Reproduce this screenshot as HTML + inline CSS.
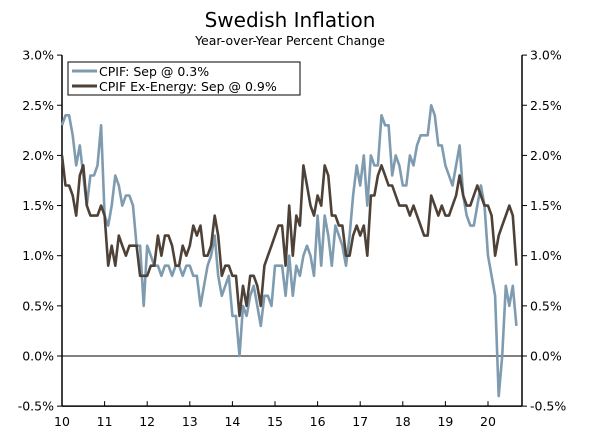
<!DOCTYPE html>
<html><head><meta charset="utf-8"><style>
body{margin:0;background:#fff;}
svg text{font-family:"DejaVu Sans","Liberation Sans",sans-serif;fill:#000;}
</style></head><body>
<svg id="chart" width="600" height="436" viewBox="0 0 600 436" xmlns="http://www.w3.org/2000/svg">
<text x="290" y="27" font-size="20" text-anchor="middle">Swedish Inflation</text>
<text x="290" y="45" font-size="12.5" text-anchor="middle">Year-over-Year Percent Change</text>
<g id="axes"></g>
<g id="series"></g>
<g>
<rect x="68" y="62" width="232" height="33" fill="#fff" stroke="#000" stroke-width="1"/>
<line x1="72" y1="71" x2="97" y2="71" stroke="#7e9bb0" stroke-width="3"/>
<text x="99" y="76" font-size="12.5">CPIF: Sep @ 0.3%</text>
<line x1="72" y1="86" x2="97" y2="86" stroke="#4e4238" stroke-width="3"/>
<text x="99" y="91" font-size="12.5">CPIF Ex-Energy: Sep @ 0.9%</text>
</g>
</svg>
<script>
const yTicks=[3.0,2.5,2.0,1.5,1.0,0.5,0.0,-0.5];
const yearLabels=["10","11","12","13","14","15","16","17","18","19","20"];
const cpif=[2.3,2.4,2.4,2.2,1.9,2.1,1.8,1.5,1.8,1.8,1.9,2.3,
1.4,1.3,1.5,1.8,1.7,1.5,1.6,1.6,1.5,1.1,1.1,0.5,
1.1,1.0,0.9,0.9,0.8,0.9,0.9,0.8,0.9,0.9,0.8,0.9,
0.9,0.8,0.8,0.5,0.7,0.9,1.0,1.2,0.8,0.6,0.7,0.8,
0.4,0.4,0.0,0.5,0.4,0.6,0.7,0.5,0.3,0.6,0.6,0.5,
0.9,0.9,0.9,0.6,1.0,0.6,0.9,0.8,1.0,1.1,1.0,0.8,
1.4,0.9,1.4,1.2,0.9,1.3,1.2,1.1,0.9,1.2,1.6,1.9,
1.7,2.0,1.5,2.0,1.9,1.9,2.4,2.3,2.3,1.8,2.0,1.9,
1.7,1.7,2.0,1.9,2.1,2.2,2.2,2.2,2.5,2.4,2.1,2.1,
1.9,1.8,1.7,1.9,2.1,1.6,1.4,1.3,1.3,1.5,1.7,1.5,
1.0,0.8,0.6,-0.4,0.0,0.7,0.5,0.7,0.3];
const cpifExEnergy=[2.0,1.7,1.7,1.6,1.4,1.8,1.9,1.5,1.4,1.4,1.4,1.5,
1.4,0.9,1.1,0.9,1.2,1.1,1.0,1.1,1.1,1.1,0.8,0.8,
0.8,0.9,0.9,1.2,1.0,1.2,1.2,1.1,0.9,0.9,1.1,1.0,
1.1,1.3,1.2,1.3,1.0,1.0,1.1,1.4,1.2,0.8,0.9,0.9,
0.8,0.8,0.4,0.7,0.5,0.8,0.8,0.7,0.5,0.9,1.0,1.1,
1.2,1.3,1.3,0.9,1.5,1.0,1.4,1.3,1.9,1.7,1.5,1.4,
1.6,1.5,1.9,1.8,1.4,1.4,1.3,1.3,1.0,1.0,1.2,1.3,
1.2,1.3,1.0,1.6,1.6,1.8,1.9,1.8,1.7,1.7,1.6,1.5,
1.5,1.5,1.4,1.5,1.4,1.3,1.2,1.2,1.6,1.5,1.4,1.5,
1.4,1.4,1.5,1.6,1.8,1.6,1.5,1.5,1.6,1.7,1.6,1.5,
1.5,1.4,1.0,1.2,1.3,1.4,1.5,1.4,0.9];
const NS="http://www.w3.org/2000/svg";
const X0=62,X1=522,perYear=42.6;
function xScale(i){return X0+i*perYear/12;}
function yScale(v){return 356-v*100.3;}
function mk(tag,attrs,parent){const e=document.createElementNS(NS,tag);for(const k in attrs)e.setAttribute(k,attrs[k]);parent.appendChild(e);return e;}
const axes=document.getElementById('axes');
const ax=mk('line',{x1:X0,y1:yScale(3),x2:X0,y2:yScale(-0.5),stroke:'#000','stroke-width':1.5},axes);


const ax2=mk('line',{x1:X1,y1:yScale(3),x2:X1,y2:yScale(-0.5),stroke:'#000','stroke-width':1.5},axes);


const bx=mk('line',{x1:X0,y1:yScale(-0.5),x2:X1,y2:yScale(-0.5),stroke:'#000','stroke-width':1.5},axes);


const zl=mk('line',{x1:X0,y1:yScale(0),x2:X1,y2:yScale(0),stroke:'#000','stroke-width':1},axes);


yTicks.forEach(v=>{
 const y=yScale(v);
 mk('line',{x1:X0-5,y1:y,x2:X0,y2:y,stroke:'#000'},axes);
 mk('line',{x1:X1,y1:y,x2:X1+5,y2:y,stroke:'#000'},axes);
 const t=mk('text',{x:X0-8,y:y+4.5,'font-size':12.5,'text-anchor':'end'},axes);t.textContent=v.toFixed(1)+'%';
 
 
 const t2=mk('text',{x:X1+8,y:y+4.5,'font-size':12.5,'text-anchor':'start'},axes);t2.textContent=v.toFixed(1)+'%';
 
 
});
yearLabels.forEach((l,k)=>{
 const x=xScale(k*12);
 mk('line',{x1:x,y1:yScale(-0.5),x2:x,y2:yScale(-0.5)-5,stroke:'#000'},axes);
 const t=mk('text',{x:x,y:yScale(-0.5)+20,'font-size':12.5,'text-anchor':'middle'},axes);t.textContent=l;
 
 
});
const ser=document.getElementById('series');
function line(data,color,name){
 const p=mk('polyline',{points:data.map((v,i)=>xScale(i).toFixed(1)+','+yScale(v).toFixed(1)).join(' '),fill:'none',stroke:color,'stroke-width':2.6,'stroke-linejoin':'round'},ser);
 
 
}
line(cpif,'#7e9bb0','cpif-line');
line(cpifExEnergy,'#4e4238','cpif-ex-energy-line');
</script>
</body></html>
